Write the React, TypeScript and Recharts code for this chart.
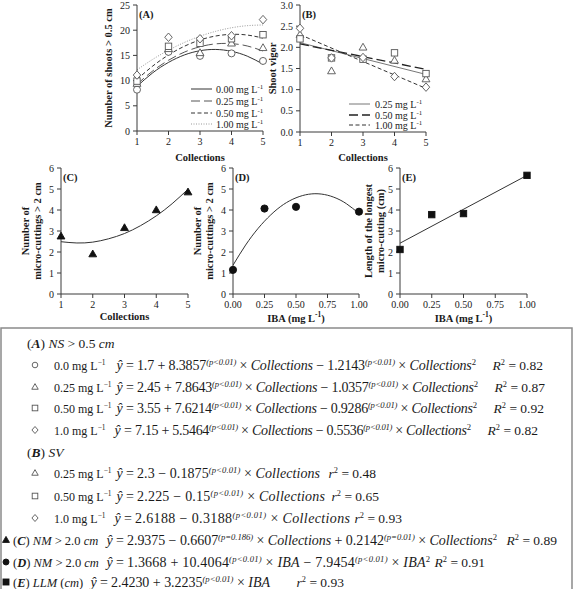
import React from 'react';
import { ComposedChart, Scatter, Line, XAxis, YAxis, Label, Legend } from 'recharts';

const SERIF = '"Liberation Serif", "Times New Roman", Times, serif';
const AXIS = '#3a3a3a';
const FRAME = '#9a9a9a';
const INK = '#1a1a1a';

// ---------- Panel A: number of shoots > 0.5 cm ----------
const collections = [1, 2, 3, 4, 5];
const curveCollections = [1, 1.5, 2, 2.5, 3, 3.5, 4, 4.5, 5];
const shootsIBA000 = [8.2, 15.7, 14.9, 15.4, 13.9];
const shootsIBA025 = [9.4, 16.3, 15.5, 17.4, 16.5];
const shootsIBA050 = [9.9, 16.8, 17.4, 18.3, 19.1];
const shootsIBA100 = [11.1, 18.6, 18.3, 18.9, 22.1];
const shootsFit000 = [8.87, 11.55, 13.61, 15.08, 15.93, 16.18, 15.81, 14.85, 13.27];
const shootsFit025 = [9.28, 11.92, 14.04, 15.64, 16.72, 17.29, 17.34, 16.87, 15.88];
const shootsFit050 = [10.24, 12.89, 15.08, 16.8, 18.06, 18.85, 19.18, 19.04, 18.44];
const shootsFit100 = [12.14, 14.22, 16.03, 17.56, 18.81, 19.78, 20.48, 20.9, 21.04];
const shootTicks = [0, 5, 10, 15, 20, 25];
const legendALabels = ['0.00', '0.25', '0.50', '1.00'];

// ---------- Panel B: shoot vigor ----------
const vigorIBA025 = [2.3, 1.44, 2.0, 1.69, 1.25];
const vigorIBA050 = [2.2, 1.75, 1.72, 1.87, 1.38];
const vigorIBA100 = [2.45, 1.75, 1.76, 1.31, 1.06];
const vigorLineX = [1, 5];
const vigorFit025 = [2.11, 1.36];
const vigorFit050 = [2.08, 1.48];
const vigorFit100 = [2.3, 1.03];
const vigorTicks = [0, 0.5, 1, 1.5, 2, 2.5, 3];
const legendBLabels = ['0.25', '0.50', '1.00'];

// ---------- Panel C: micro-cuttings by collection ----------
const cuttingsByCollection = [2.75, 1.9, 3.15, 4.0, 4.85];
const cuttingsCollectionFit = [2.49, 2.43, 2.47, 2.63, 2.88, 3.25, 3.72, 4.3, 4.99];
const countTicks = [0, 1, 2, 3, 4, 5, 6];

// ---------- Panel D: micro-cuttings by IBA ----------
const ibaDoses = [0, 0.25, 0.5, 1.0];
const ibaCurve = [0, 0.1, 0.2, 0.3, 0.4, 0.5, 0.6, 0.7, 0.8, 0.9, 1.0];
const cuttingsByIBA = [1.15, 4.07, 4.15, 3.92];
const cuttingsIBAFit = [1.37, 2.33, 3.13, 3.77, 4.26, 4.58, 4.75, 4.76, 4.61, 4.3, 3.83];
const ibaTicks = [0, 0.25, 0.5, 0.75, 1.0];

// ---------- Panel E: longest micro-cutting ----------
const longestByIBA = [2.12, 3.78, 3.83, 5.65];
const longestLineX = [0, 1];
const longestFit = [2.42, 5.65];

const pts = (xs: number[], ys: number[]) => xs.map((x, i) => ({ x, y: ys[i] }));

type Kind = 'circle' | 'triangle' | 'square' | 'diamond';
function Mark({ kind, filled, cx, cy, s }: { kind: Kind; filled: boolean; cx: number; cy: number; s: number }) {
  const fill = filled ? '#111' : '#fff';
  const stroke = filled ? '#111' : '#555';
  const sw = 0.9;
  if (kind === 'circle') return <circle cx={cx} cy={cy} r={s} fill={fill} stroke={stroke} strokeWidth={sw} />;
  if (kind === 'square') return <rect x={cx - s} y={cy - s} width={2 * s} height={2 * s} fill={fill} stroke={stroke} strokeWidth={sw} />;
  if (kind === 'triangle')
    return (
      <polygon
        points={`${cx},${cy - s * 1.2} ${cx + s * 1.15},${cy + s * 0.8} ${cx - s * 1.15},${cy + s * 0.8}`}
        fill={fill}
        stroke={stroke}
        strokeWidth={sw}
      />
    );
  return (
    <polygon
      points={`${cx},${cy - s * 1.25} ${cx + s * 1.1},${cy} ${cx},${cy + s * 1.25} ${cx - s * 1.1},${cy}`}
      fill={fill}
      stroke={stroke}
      strokeWidth={sw}
    />
  );
}
const marker = (kind: Kind, filled: boolean, s: number) => (p: any) => {
  if (p == null || p.cx == null || p.cy == null) return <g />;
  return <Mark kind={kind} filled={filled} cx={p.cx} cy={p.cy} s={s} />;
};

type PanelProps = {
  box: [number, number, number, number];
  plot: { x0: number; x1: number; y0: number; y1: number };
  xDomain: [number, number];
  xTicks: number[];
  xFmt?: (v: number) => string;
  yDomain: [number, number];
  yTicks: number[];
  yFmt?: (v: number) => string;
  tag: string;
  yLabel: string[];
  yLabelX: number[];
  xTitle: React.ReactNode;
  xTitleY: number;
  legend?: React.ReactNode;
  children?: React.ReactNode;
};

function Panel(props: PanelProps) {
  const { box, plot, xDomain, xTicks, xFmt, yDomain, yTicks, yFmt, tag, yLabel, yLabelX, xTitle, xTitleY, legend, children } = props;
  const [L, T, W, H] = box;
  const margin = { top: plot.y0 - T, right: L + W - plot.x1, bottom: 0, left: 0 };
  const yw = plot.x0 - L;
  const xh = T + H - plot.y1;
  const cy = (plot.y0 + plot.y1) / 2 - T;
  const tickStyle = { fontSize: 10, fill: INK, fontFamily: SERIF };
  return (
    <div style={{ position: 'absolute', left: L, top: T, width: W, height: H }}>
      <ComposedChart width={W} height={H} margin={margin}>
        <XAxis xAxisId="top" orientation="top" type="number" domain={xDomain} ticks={xTicks} tick={false} tickLine={false} axisLine={{ stroke: FRAME }} height={0} />
        <YAxis yAxisId="right" orientation="right" type="number" domain={yDomain} ticks={yTicks} tick={false} tickLine={false} axisLine={{ stroke: FRAME }} width={0} />
        <XAxis
          dataKey="x"
          type="number"
          domain={xDomain}
          ticks={xTicks}
          interval={0}
          tickFormatter={xFmt}
          height={xh}
          tickSize={4}
          tickMargin={3}
          axisLine={{ stroke: AXIS }}
          tickLine={{ stroke: AXIS }}
          tick={tickStyle}
        >
          <Label
            content={() => (
              <text
                x={(plot.x0 + plot.x1) / 2 - L}
                y={xTitleY - T}
                textAnchor="middle"
                dominantBaseline="central"
                fontFamily={SERIF}
                fontWeight="bold"
                fontSize={10.5}
                fill={INK}
              >
                {xTitle}
              </text>
            )}
          />
        </XAxis>
        <YAxis
          dataKey="y"
          type="number"
          domain={yDomain}
          ticks={yTicks}
          interval={0}
          tickFormatter={yFmt}
          width={yw}
          tickSize={4}
          tickMargin={3}
          axisLine={{ stroke: AXIS }}
          tickLine={{ stroke: AXIS }}
          tick={tickStyle}
        >
          <Label
            content={() => (
              <g>
                {yLabel.map((t, i) => (
                  <text
                    key={i}
                    transform={`translate(${yLabelX[i] - L},${cy}) rotate(-90)`}
                    textAnchor="middle"
                    dominantBaseline="central"
                    fontFamily={SERIF}
                    fontWeight="bold"
                    fontSize={10.5}
                    fill={INK}
                  >
                    {t}
                  </text>
                ))}
                <text x={plot.x0 - L + 2} y={plot.y0 - T + 13} fontFamily={SERIF} fontWeight="bold" fontSize={10.5} fill={INK}>
                  {tag}
                </text>
              </g>
            )}
          />
        </YAxis>
        {legend}
        {children}
      </ComposedChart>
    </div>
  );
}

const MgL = ({ v, size }: { v: string; size: number }) => (
  <>
    <tspan>{v} mg L</tspan>
    <tspan dy={-size * 0.4} fontSize={size * 0.7}>-1</tspan>
  </>
);

function legendContent(
  labels: string[],
  styles: { dash?: string; stroke: string; w: number }[],
  rowsY: number[],
  textX: number
) {
  return () => (
    <svg width={90} height={52} style={{ overflow: 'visible', display: 'block' }}>
      {labels.map((lab, i) => (
        <g key={lab}>
          <line x1={0} x2={21} y1={rowsY[i]} y2={rowsY[i]} stroke={styles[i].stroke} strokeWidth={styles[i].w} strokeDasharray={styles[i].dash} />
          <text x={textX} y={rowsY[i] + 3.5} fontFamily={SERIF} fontSize={10} fill={INK}>
            <MgL v={lab} size={10} />
          </text>
        </g>
      ))}
    </svg>
  );
}

// ---------- equation box text ----------
type Tok = { t: string; sup?: boolean; it?: boolean; b?: boolean };
const n = (t: string): Tok => ({ t });
const it = (t: string): Tok => ({ t, it: true });
const bi = (t: string): Tok => ({ t, it: true, b: true });
const sp = (t: string): Tok => ({ t, sup: true, it: true });
const su = (t: string): Tok => ({ t, sup: true });
const P = sp('(p<0.01)');

function renderToks(toks: Tok[], size: number) {
  let raised = false;
  return toks.map((tk, i) => {
    let dy: number | undefined;
    if (tk.sup && !raised) {
      dy = -size * 0.38;
      raised = true;
    } else if (!tk.sup && raised) {
      dy = size * 0.38;
      raised = false;
    }
    return (
      <tspan key={i} dy={dy} fontSize={tk.sup ? size * 0.62 : size} fontStyle={tk.it ? 'italic' : 'normal'} fontWeight={tk.b ? 'bold' : 'normal'}>
        {tk.t}
      </tspan>
    );
  });
}

const eqHeaders = [
  { y: 343, x: 27, toks: [n('('), bi('A'), n(') '), it('NS'), n(' > 0.5 '), it('cm')] },
  { y: 452, x: 27, toks: [n('('), bi('B'), n(') '), it('SV')] },
];

const mgLabel = (v: string): Tok[] => [n(v + ' mg L'), su('−1')];
const R2 = (v: string): Tok[] => [it('R'), su('2'), n(' = ' + v)];
const r2 = (v: string): Tok[] => [it('r'), su('2'), n(' = ' + v)];
const quadColl = (a: string, b: string, c: string): Tok[] => [n(`${a} + ${b}`), P, n(' × '), it('Collections'), n(` − ${c}`), P, n(' × '), it('Collections'), su('2')];
const linColl = (a: string, b: string): Tok[] => [n(`${a} − ${b}`), P, n(' × '), it('Collections')];

type EqRow = {
  y: number; mark: Kind; filled: boolean; mx: number;
  label: Tok[]; labelX: number; labelSize: number;
  eqX: number; eqEnd: number; eq: Tok[]; r: Tok[]; end: number;
};
const eqRows: EqRow[] = [
  { y: 365, mark: 'circle', filled: false, mx: 35, label: mgLabel('0.0'), labelX: 54, labelSize: 12, eqX: 137, eqEnd: 476, eq: quadColl('1.7', '8.3857', '1.2143'), r: R2('0.82'), end: 543 },
  { y: 387, mark: 'triangle', filled: false, mx: 35, label: mgLabel('0.25'), labelX: 54, labelSize: 12, eqX: 137, eqEnd: 478, eq: quadColl('2.45', '7.8643', '1.0357'), r: R2('0.87'), end: 545 },
  { y: 408, mark: 'square', filled: false, mx: 35, label: mgLabel('0.50'), labelX: 54, labelSize: 12, eqX: 137, eqEnd: 477, eq: quadColl('3.55', '7.6214', '0.9286'), r: R2('0.92'), end: 544 },
  { y: 430, mark: 'diamond', filled: false, mx: 35, label: mgLabel('1.0'), labelX: 54, labelSize: 12, eqX: 135, eqEnd: 471, eq: quadColl('7.15', '5.5464', '0.5536'), r: R2('0.82'), end: 538 },
  { y: 473, mark: 'triangle', filled: false, mx: 35, label: mgLabel('0.25'), labelX: 54, labelSize: 12, eqX: 137, eqEnd: 320, eq: linColl('2.3', '0.1875'), r: r2('0.48'), end: 376 },
  { y: 496, mark: 'square', filled: false, mx: 35, label: mgLabel('0.50'), labelX: 54, labelSize: 12, eqX: 137, eqEnd: 325, eq: linColl('2.225', '0.15'), r: r2('0.65'), end: 379 },
  { y: 518, mark: 'diamond', filled: false, mx: 35, label: mgLabel('1.0'), labelX: 54, labelSize: 12, eqX: 135, eqEnd: 350, eq: linColl('2.6188', '0.3188'), r: r2('0.93'), end: 402 },
  {
    y: 540, mark: 'triangle', filled: true, mx: 6, labelX: 13, labelSize: 12.5,
    label: [n('('), bi('C'), n(') '), it('NM'), n(' > 2.0 '), it('cm')],
    eqX: 127, eqEnd: 497,
    eq: [n('2.9375 − 0.6607'), sp('(p=0.186)'), n(' × '), it('Collections'), n(' + 0.2142'), sp('(p=0.01)'), n(' × '), it('Collections'), su('2')],
    r: R2('0.89'), end: 557,
  },
  {
    y: 562, mark: 'circle', filled: true, mx: 6, labelX: 13, labelSize: 12.5,
    label: [n('('), bi('D'), n(') '), it('NM'), n(' > 2.0 '), it('cm')],
    eqX: 127, eqEnd: 430,
    eq: [n('1.3668 + 10.4064'), P, n(' × '), it('IBA'), n(' − 7.9454'), P, n(' × '), it('IBA'), su('2')],
    r: R2('0.91'), end: 485,
  },
  {
    y: 582, mark: 'square', filled: true, mx: 6, labelX: 13, labelSize: 12.5,
    label: [n('('), bi('E'), n(') '), it('LLM'), n(' ('), it('cm'), n(')')],
    eqX: 111, eqEnd: 270,
    eq: [n('2.4230 + 3.2235'), P, n(' × '), it('IBA')],
    r: r2('0.93'), end: 344,
  },
];

function EquationBox() {
  const fs = 14;
  return (
    <svg width={576} height={589} style={{ position: 'absolute', left: 0, top: 0 }} fontFamily={SERIF} fill={INK}>
      <rect x={1} y={328} width={571} height={280} fill="#fff" stroke="#8a8a8a" strokeWidth={1.5} />
      {eqHeaders.map((h, i) => (
        <text key={i} x={h.x} y={h.y + 5} fontSize={13.5} style={{ whiteSpace: 'pre' }}>
          {renderToks(h.toks, 13.5)}
        </text>
      ))}
      {eqRows.map((r, i) => (
        <g key={i}>
          <Mark kind={r.mark} filled={r.filled} cx={r.mx} cy={r.y} s={r.filled ? 3 : 2.8} />
          <text x={r.labelX} y={r.y + 5} fontSize={r.labelSize} style={{ whiteSpace: 'pre' }}>
            {renderToks(r.label, r.labelSize)}
          </text>
          <text x={r.eqX - 3} y={r.y + 5} fontSize={fs} textAnchor="end" style={{ whiteSpace: 'pre' }}>
            <tspan fontStyle="italic">ŷ</tspan>
            <tspan> =</tspan>
          </text>
          <text x={r.eqX} y={r.y + 5} fontSize={fs} textLength={r.eqEnd - r.eqX} lengthAdjust="spacing" style={{ whiteSpace: 'pre' }}>
            {renderToks(r.eq, fs)}
          </text>
          <text x={r.end} y={r.y + 5} fontSize={13.5} textAnchor="end" style={{ whiteSpace: 'pre' }}>
            {renderToks(r.r, 13.5)}
          </text>
        </g>
      ))}
    </svg>
  );
}

const IbaTitle = () => (
  <>
    <tspan>IBA (mg L</tspan>
    <tspan dy={-4} fontSize={7.5}>-1</tspan>
    <tspan dy={4}>)</tspan>
  </>
);

export default function App() {
  const fmt1 = (v: number) => v.toFixed(1);
  const fmt2 = (v: number) => v.toFixed(2);
  const lineCommon = { dataKey: 'y', dot: false, activeDot: false, isAnimationActive: false, strokeWidth: 1 } as const;

  const legendAStyles = [
    { stroke: '#333', w: 1 },
    { stroke: '#555', w: 1, dash: '9 4' },
    { stroke: '#333', w: 1, dash: '4 2.5' },
    { stroke: '#999', w: 1, dash: '1 1.5' },
  ];
  const legendBStyles = [
    { stroke: '#777', w: 1 },
    { stroke: '#222', w: 1.3, dash: '9 4' },
    { stroke: '#333', w: 1, dash: '4 2.5' },
  ];

  return (
    <div style={{ position: 'absolute', left: 0, top: 0, width: 576, height: 589, background: '#fff', overflow: 'hidden' }}>
      <EquationBox />

      <Panel
        box={[88, 0, 187, 165]}
        plot={{ x0: 137, x1: 263, y0: 5, y1: 131 }}
        xDomain={[1, 5]}
        xTicks={collections}
        yDomain={[0, 25]}
        yTicks={shootTicks}
        tag="(A)"
        yLabel={['Number of shoots > 0.5 cm']}
        yLabelX={[108]}
        xTitle="Collections"
        xTitleY={157}
        legend={
          <Legend
            layout="horizontal"
            verticalAlign="middle"
            align="center"
            content={legendContent(legendALabels, legendAStyles, [7, 19, 31, 42], 25)}
            wrapperStyle={{ position: 'absolute', left: 103, top: 82, width: 90, height: 52 }}
          />
        }
      >
        <Line data={pts(curveCollections, shootsFit000)} type="natural" stroke="#333" {...lineCommon} />
        <Line data={pts(curveCollections, shootsFit025)} type="natural" stroke="#555" strokeDasharray="9 4" {...lineCommon} />
        <Line data={pts(curveCollections, shootsFit050)} type="natural" stroke="#333" strokeDasharray="4 2.5" {...lineCommon} />
        <Line data={pts(curveCollections, shootsFit100)} type="natural" stroke="#999" strokeDasharray="1 1.5" {...lineCommon} />
        <Scatter data={pts(collections, shootsIBA000)} shape={marker('circle', false, 3.5)} isAnimationActive={false} />
        <Scatter data={pts(collections, shootsIBA025)} shape={marker('triangle', false, 3.4)} isAnimationActive={false} />
        <Scatter data={pts(collections, shootsIBA050)} shape={marker('square', false, 3.2)} isAnimationActive={false} />
        <Scatter data={pts(collections, shootsIBA100)} shape={marker('diamond', false, 3.4)} isAnimationActive={false} />
      </Panel>

      <Panel
        box={[262, 0, 176, 165]}
        plot={{ x0: 300, x1: 426, y0: 5, y1: 132 }}
        xDomain={[1, 5]}
        xTicks={collections}
        yDomain={[0, 3]}
        yTicks={vigorTicks}
        yFmt={fmt1}
        tag="(B)"
        yLabel={['Shoot vigor']}
        yLabelX={[272]}
        xTitle="Collections"
        xTitleY={157}
        legend={
          <Legend
            layout="horizontal"
            verticalAlign="middle"
            align="center"
            content={legendContent(legendBLabels, legendBStyles, [7, 18, 28], 26)}
            wrapperStyle={{ position: 'absolute', left: 87, top: 97, width: 90, height: 52 }}
          />
        }
      >
        <Line data={pts(vigorLineX, vigorFit025)} type="linear" stroke="#777" {...lineCommon} />
        <Line data={pts(vigorLineX, vigorFit050)} type="linear" stroke="#222" strokeDasharray="9 4" {...lineCommon} strokeWidth={1.3} />
        <Line data={pts(vigorLineX, vigorFit100)} type="linear" stroke="#333" strokeDasharray="4 2.5" {...lineCommon} />
        <Scatter data={pts(collections, vigorIBA025)} shape={marker('triangle', false, 3.4)} isAnimationActive={false} />
        <Scatter data={pts(collections, vigorIBA050)} shape={marker('square', false, 3.2)} isAnimationActive={false} />
        <Scatter data={pts(collections, vigorIBA100)} shape={marker('diamond', false, 3.4)} isAnimationActive={false} />
      </Panel>

      <Panel
        box={[0, 160, 200, 165]}
        plot={{ x0: 61, x1: 188, y0: 168, y1: 294 }}
        xDomain={[1, 5]}
        xTicks={collections}
        yDomain={[0, 6]}
        yTicks={countTicks}
        tag="(C)"
        yLabel={['Number of', 'micro-cuttings > 2 cm']}
        yLabelX={[25, 37]}
        xTitle="Collections"
        xTitleY={316.5}
      >
        <Line data={pts(curveCollections, cuttingsCollectionFit)} type="natural" stroke="#333" {...lineCommon} />
        <Scatter data={pts(collections, cuttingsByCollection)} shape={marker('triangle', true, 3.4)} isAnimationActive={false} />
      </Panel>

      <Panel
        box={[185, 160, 186, 165]}
        plot={{ x0: 233, x1: 359, y0: 168, y1: 294 }}
        xDomain={[0, 1]}
        xTicks={ibaTicks}
        xFmt={fmt2}
        yDomain={[0, 6]}
        yTicks={countTicks}
        tag="(D)"
        yLabel={['Number of', 'micro-cuttings > 2 cm']}
        yLabelX={[197, 209]}
        xTitle={<IbaTitle />}
        xTitleY={318}
      >
        <Line data={pts(ibaCurve, cuttingsIBAFit)} type="natural" stroke="#333" {...lineCommon} />
        <Scatter data={pts(ibaDoses, cuttingsByIBA)} shape={marker('circle', true, 3.6)} isAnimationActive={false} />
      </Panel>

      <Panel
        box={[355, 160, 184, 165]}
        plot={{ x0: 400, x1: 527, y0: 168, y1: 294 }}
        xDomain={[0, 1]}
        xTicks={ibaTicks}
        xFmt={fmt2}
        yDomain={[0, 6]}
        yTicks={countTicks}
        tag="(E)"
        yLabel={['Length of the longest', 'micro-cutting (cm)']}
        yLabelX={[368, 380]}
        xTitle={<IbaTitle />}
        xTitleY={318}
      >
        <Line data={pts(longestLineX, longestFit)} type="linear" stroke="#333" {...lineCommon} />
        <Scatter data={pts(ibaDoses, longestByIBA)} shape={marker('square', true, 3.2)} isAnimationActive={false} />
      </Panel>
    </div>
  );
}
